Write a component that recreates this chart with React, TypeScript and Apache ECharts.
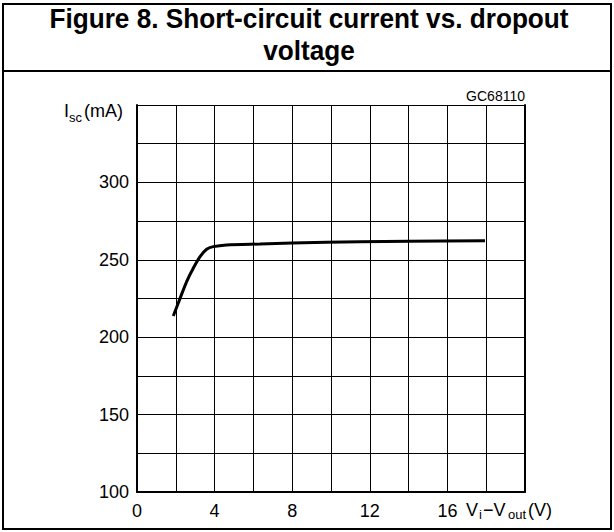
import React, { useEffect, useRef } from "react";
import * as echarts from "echarts";

// Dropout voltage Vi - Vout (V)
const vDrop = [1.87, 2.22, 2.56, 2.9, 3.25, 3.59, 3.93, 4.62, 6.34, 8, 11.5, 14, 17.94];
// Short-circuit current Isc (mA)
const iSc = [213.7, 225.1, 235.9, 244.5, 252.0, 256.8, 258.5, 259.6, 260.2, 260.8, 261.7, 262.0, 262.3];

const xTickLabels = [0, 4, 8, 12, 16];
const yTickLabels = [100, 150, 200, 250, 300];

const titleText = "Figure 8. Short-circuit current vs. dropout\nvoltage";
const figCode = "GC68110";

const FONT = "'Liberation Sans', Arial, sans-serif";

export default function App() {
  const ref = useRef<HTMLDivElement>(null);
  useEffect(() => {
    document.body.style.margin = "0";
    const chart = echarts.init(ref.current!, undefined, { renderer: "svg" });
    const axisText = { color: "#000", fontSize: 18, fontFamily: FONT };
    chart.setOption({
      animation: false,
      backgroundColor: "#fff",
      grid: { left: 137, right: 89, top: 105, bottom: 40 },
      xAxis: {
        type: "value",
        min: 0,
        max: 20,
        interval: 2,
        axisLine: { show: true, lineStyle: { color: "#000", width: 2 } },
        axisTick: { show: false },
        splitLine: { show: true, lineStyle: { color: "#000", width: 1 } },
        axisLabel: {
          ...axisText,
          margin: 10,
          formatter: (v: number) => (xTickLabels.includes(v) ? String(v) : ""),
        },
      },
      yAxis: [
        {
          type: "value",
          min: 100,
          max: 350,
          interval: 25,
          axisLine: { show: true, lineStyle: { color: "#000", width: 2 } },
          axisTick: { show: false },
          splitLine: { show: true, lineStyle: { color: "#000", width: 1 } },
          axisLabel: {
            ...axisText,
            margin: 8,
            formatter: (v: number) => (yTickLabels.includes(v) ? String(v) : ""),
          },
        },
        {
          type: "value",
          position: "right",
          min: 100,
          max: 350,
          interval: 25,
          axisLine: { show: true, lineStyle: { color: "#000", width: 2 } },
          axisTick: { show: false },
          axisLabel: { show: false },
          splitLine: { show: false },
        },
      ],
      series: [
        {
          type: "line",
          data: vDrop.map((v, i) => [v, iSc[i]]),
          smooth: 0.25,
          showSymbol: false,
          lineStyle: { color: "#000", width: 3 },
        },
      ],
      graphic: [
        {
          type: "rect",
          shape: { x: 3, y: 4, width: 608, height: 525 },
          style: { fill: "none", stroke: "#000", lineWidth: 2 },
        },
        {
          type: "line",
          shape: { x1: 3, y1: 71, x2: 611, y2: 71 },
          style: { stroke: "#000", lineWidth: 2 },
        },
        {
          type: "text",
          x: 309,
          y: 3.5,
          scaleX: 0.97,
          style: {
            text: titleText,
            fill: "#000",
            font: `bold 27px ${FONT}`,
            lineHeight: 31.5,
            align: "center",
            verticalAlign: "top",
          },
        },
        {
          type: "text",
          x: 525,
          y: 96,
          style: {
            text: figCode,
            fill: "#000",
            font: `14px ${FONT}`,
            align: "right",
            verticalAlign: "middle",
          },
        },
        // Isc(mA) label
        { type: "text", x: 64, y: 111, style: { text: "I", fill: "#000", font: `18px ${FONT}`, align: "left", verticalAlign: "middle" } },
        { type: "text", x: 69, y: 117, style: { text: "sc", fill: "#000", font: `13px ${FONT}`, align: "left", verticalAlign: "middle" } },
        { type: "text", x: 84, y: 111, style: { text: "(mA)", fill: "#000", font: `18px ${FONT}`, align: "left", verticalAlign: "middle" } },
        // Vi - Vout (V) label
        { type: "text", x: 466, y: 510, style: { text: "V", fill: "#000", font: `18px ${FONT}`, align: "left", verticalAlign: "middle" } },
        { type: "text", x: 479, y: 514, style: { text: "i", fill: "#000", font: `13px ${FONT}`, align: "left", verticalAlign: "middle" } },
        { type: "text", x: 483, y: 510, style: { text: "\u2212V", fill: "#000", font: `18px ${FONT}`, align: "left", verticalAlign: "middle" } },
        { type: "text", x: 508, y: 514, style: { text: "out", fill: "#000", font: `13px ${FONT}`, align: "left", verticalAlign: "middle" } },
        { type: "text", x: 528, y: 510, style: { text: "(V)", fill: "#000", font: `18px ${FONT}`, align: "left", verticalAlign: "middle" } },
      ],
    });
    return () => chart.dispose();
  }, []);
  return (
    <div
      ref={ref}
      style={{ position: "absolute", left: 0, top: 0, width: 614, height: 532 }}
    />
  );
}
